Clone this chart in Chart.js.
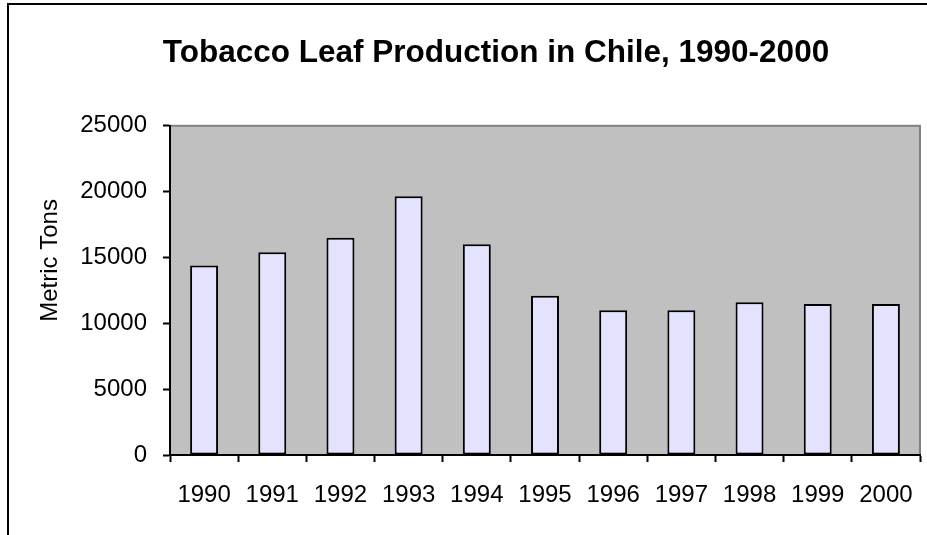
<!DOCTYPE html>
<html>
<head>
<meta charset="utf-8">
<title>Tobacco Leaf Production in Chile, 1990-2000</title>
<script src="https://cdn.jsdelivr.net/npm/chart.js@4/dist/chart.umd.min.js"></script>
<style>
    html, body { margin: 0; padding: 0; background: #ffffff; overflow: hidden; }
    body { width: 927px; height: 535px; position: relative; }
    #chartWrap { position: absolute; left: 0; top: 0; width: 984px; height: 535px; }
    #chartFrame {
        position: absolute; left: 7px; top: 3px; width: 1000px; height: 560px;
        border-left: 2px solid #000; border-top: 2px solid #000; pointer-events: none;
    }
</style>
</head>
<body>
<div id="chartWrap"><canvas id="productionChart" width="984" height="535"></canvas></div>
<div id="chartFrame"></div>
<script>
// ========== DATA ==========
const years = ['1990', '1991', '1992', '1993', '1994', '1995', '1996', '1997', '1998', '1999', '2000'];
const metricTons = [14400, 15400, 16500, 19650, 16000, 12100, 11000, 11000, 11600, 11470, 11470];
const yTicks = [0, 5000, 10000, 15000, 20000, 25000];
const yAxisTitle = 'Metric Tons';

const FONT = '"Liberation Sans", Arial, sans-serif';

// ========== PLOT AREA BACKGROUND ==========
const plotAreaBackground = {
    id: 'plotAreaBackground',
    beforeDraw(chart) {
        const { ctx, chartArea } = chart;
        ctx.save();
        ctx.fillStyle = '#c0c0c0';
        ctx.fillRect(chartArea.left, chartArea.top, chartArea.width, chartArea.height);
        ctx.strokeStyle = '#808080';
        ctx.lineWidth = 2;
        ctx.strokeRect(chartArea.left, chartArea.top, chartArea.width, chartArea.height);
        ctx.restore();
    }
};

// ========== Y AXIS TITLE ==========
// Excel puts it a bit above the middle of the plot, so it is drawn here instead of by the scale
const yTitle = {
    id: 'yTitle',
    afterDraw(chart) {
        const { ctx, chartArea } = chart;
        const yScale = chart.scales.y;
        ctx.save();
        ctx.translate(yScale.left + 42, (chartArea.top + chartArea.bottom) / 2 - 30);
        ctx.rotate(-Math.PI / 2);
        ctx.fillStyle = '#000000';
        ctx.font = '24px ' + FONT;
        ctx.textAlign = 'center';
        ctx.textBaseline = 'middle';
        ctx.fillText(yAxisTitle, 0, 0);
        ctx.restore();
    }
};

// ========== CHART ==========
const ctx = document.getElementById('productionChart').getContext('2d');
new Chart(ctx, {
    type: 'bar',
    data: {
        labels: years,
        datasets: [{
            label: yAxisTitle,
            data: metricTons,
            backgroundColor: '#e3e3ff',
            borderColor: '#000000',
            borderWidth: 2,
            borderSkipped: false,
            barPercentage: 0.41,
            categoryPercentage: 1.0
        }]
    },
    options: {
        responsive: false,
        animation: false,
        devicePixelRatio: 1,
        layout: { padding: { left: 8, right: 0, top: 0, bottom: 0 } },
        plugins: {
            legend: { display: false },
            tooltip: { enabled: false },
            title: {
                display: true,
                text: 'Tobacco Leaf Production in Chile, 1990-2000',
                color: '#000000',
                font: { family: FONT, size: 31.5, weight: 'bold' },
                padding: { top: 34, bottom: 54 }
            }
        },
        scales: {
            x: {
                grid: {
                    display: true,
                    offset: true,
                    drawOnChartArea: false,
                    drawTicks: true,
                    tickLength: 7,
                    tickWidth: 2,
                    tickColor: '#000000'
                },
                border: { display: true, color: '#000000', width: 2 },
                ticks: {
                    color: '#000000',
                    padding: 19,
                    maxRotation: 0,
                    autoSkip: false,
                    font: { family: FONT, size: 24 }
                },
                afterFit(scale) { scale.height = 80; }
            },
            y: {
                min: 0,
                max: 25000,
                afterBuildTicks(scale) { scale.ticks = yTicks.map(v => ({ value: v })); },
                grid: {
                    display: true,
                    drawOnChartArea: false,
                    drawTicks: true,
                    tickLength: 7,
                    tickWidth: 2,
                    tickColor: '#000000'
                },
                border: { display: true, color: '#000000', width: 2 },
                ticks: {
                    color: '#000000',
                    padding: 16,
                    font: { family: FONT, size: 24 },
                    callback: value => String(value)
                },
                afterFit(scale) { scale.width = 162; }
            },
            // keeps the title centred on the full Excel chart area, which runs past the picture edge
            yPad: {
                type: 'linear',
                position: 'right',
                display: true,
                grid: { display: false },
                border: { display: false },
                ticks: { display: false },
                afterFit(scale) { scale.width = 64; }
            }
        }
    },
    plugins: [plotAreaBackground, yTitle]
});
</script>
</body>
</html>
